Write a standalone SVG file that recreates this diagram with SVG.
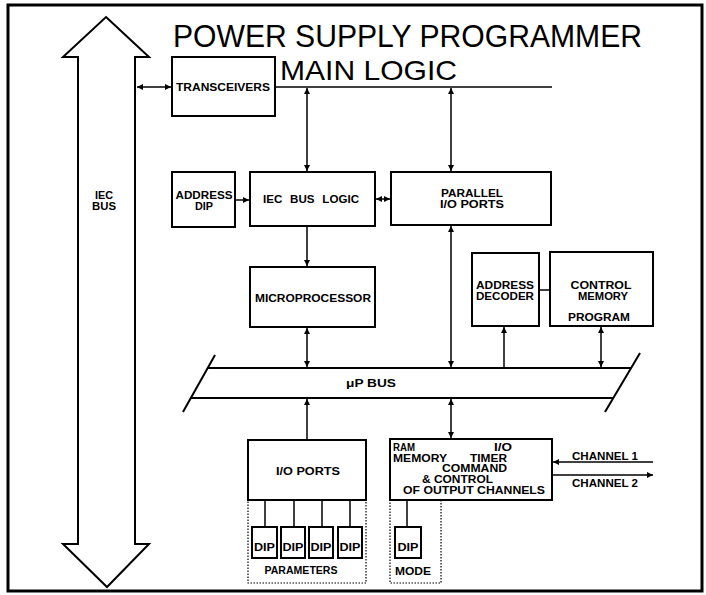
<svg xmlns="http://www.w3.org/2000/svg" width="706" height="595" viewBox="0 0 706 595">
<style>
.box{fill:#fff;stroke:#000;stroke-width:2}
.dot{fill:none;stroke:#000;stroke-width:1.2;stroke-dasharray:1.5 1.5}
.ln{fill:none;stroke:#000;stroke-width:1.5}
.t{font-family:"Liberation Sans",Arial,sans-serif;font-weight:bold;font-size:10px;fill:#000}
.c{text-anchor:middle}
.title{font-family:"Liberation Sans",Arial,sans-serif;font-weight:normal;fill:#000}
</style>
<defs>
<marker id="ah" viewBox="0 0 10 10" refX="10" refY="5" markerWidth="6" markerHeight="6" markerUnits="userSpaceOnUse" orient="auto-start-reverse">
<path d="M0,0 L10,5 L0,10 z" fill="#000"/>
</marker>
</defs>
<rect x="0" y="0" width="706" height="595" fill="#fff"/>
<rect x="8" y="5" width="694" height="586" fill="none" stroke="#000" stroke-width="3"/>

<g id="title">
<text class="title" x="173" y="47" font-size="31" textLength="469" lengthAdjust="spacingAndGlyphs">POWER SUPPLY PROGRAMMER</text>
<text class="title" x="280" y="80" font-size="28" textLength="177" lengthAdjust="spacingAndGlyphs">MAIN LOGIC</text>
</g>

<g id="iec-bus">
<polygon class="box" points="106,17 149,57 135,57 135,544 149,544 107,587 63,544 78,544 78,57 63,57"/>
<text class="t c" x="104" y="199" textLength="18" lengthAdjust="spacingAndGlyphs">IEC</text>
<text class="t c" x="104" y="210" textLength="24" lengthAdjust="spacingAndGlyphs">BUS</text>
</g>

<g id="transceivers">
<rect class="box" x="172" y="57" width="103" height="59"/>
<text class="t c" x="223" y="91" textLength="94" lengthAdjust="spacingAndGlyphs">TRANSCEIVERS</text>
</g>

<g id="address-dip">
<rect class="box" x="172" y="172" width="63" height="55"/>
<text class="t c" x="204" y="199" textLength="57" lengthAdjust="spacingAndGlyphs">ADDRESS</text>
<text class="t c" x="204" y="210" textLength="18" lengthAdjust="spacingAndGlyphs">DIP</text>
</g>

<g id="iec-bus-logic">
<rect class="box" x="250" y="172" width="125" height="54"/>
<text class="t c" x="311" y="203" textLength="96" lengthAdjust="spacingAndGlyphs" word-spacing="4">IEC BUS LOGIC</text>
</g>

<g id="parallel-io">
<rect class="box" x="391" y="172" width="160" height="53"/>
<text class="t c" x="472" y="197" textLength="62" lengthAdjust="spacingAndGlyphs">PARALLEL</text>
<text class="t c" x="472" y="208" textLength="64" lengthAdjust="spacingAndGlyphs">I/O PORTS</text>
</g>

<g id="microprocessor">
<rect class="box" x="250" y="267" width="125" height="60"/>
<text class="t c" x="313" y="302" textLength="116" lengthAdjust="spacingAndGlyphs">MICROPROCESSOR</text>
</g>

<g id="address-decoder">
<rect class="box" x="472" y="253" width="67" height="73"/>
<text class="t c" x="505" y="289" textLength="58" lengthAdjust="spacingAndGlyphs">ADDRESS</text>
<text class="t c" x="505" y="300" textLength="58" lengthAdjust="spacingAndGlyphs">DECODER</text>
</g>

<g id="control-memory">
<rect class="box" x="550" y="252" width="103" height="74"/>
<text class="t c" x="601" y="289" textLength="61" lengthAdjust="spacingAndGlyphs">CONTROL</text>
<text class="t c" x="603" y="300" textLength="50" lengthAdjust="spacingAndGlyphs">MEMORY</text>
<text class="t c" x="599" y="321" textLength="62" lengthAdjust="spacingAndGlyphs">PROGRAM</text>
</g>

<g id="up-bus">
<line class="box" x1="208" y1="368" x2="631" y2="368"/>
<line class="box" x1="191" y1="398" x2="613" y2="398"/>
<line class="box" x1="183" y1="412" x2="215" y2="355"/>
<line class="box" x1="640" y1="353" x2="605" y2="412"/>
<text class="t c" x="371" y="387" textLength="50" lengthAdjust="spacingAndGlyphs">μP BUS</text>
</g>

<g id="io-ports">
<rect class="box" x="248" y="440" width="118" height="60"/>
<text class="t c" x="308" y="475" textLength="64" lengthAdjust="spacingAndGlyphs">I/O PORTS</text>
</g>

<g id="parameters">
<rect class="dot" x="248" y="500" width="118" height="83"/>
<rect class="box" x="252" y="527" width="25" height="31"/>
<rect class="box" x="281" y="527" width="24" height="31"/>
<rect class="box" x="309" y="527" width="24" height="31"/>
<rect class="box" x="338" y="527" width="24" height="31"/>
<text class="t c" x="264.5" y="551" textLength="21" lengthAdjust="spacingAndGlyphs">DIP</text>
<text class="t c" x="293" y="551" textLength="21" lengthAdjust="spacingAndGlyphs">DIP</text>
<text class="t c" x="321" y="551" textLength="21" lengthAdjust="spacingAndGlyphs">DIP</text>
<text class="t c" x="350" y="551" textLength="21" lengthAdjust="spacingAndGlyphs">DIP</text>
<text class="t c" x="301" y="574" textLength="73" lengthAdjust="spacingAndGlyphs">PARAMETERS</text>
</g>

<g id="ram-timer">
<rect class="box" x="390" y="439" width="162" height="61"/>
<text class="t" x="393" y="451" textLength="22" lengthAdjust="spacingAndGlyphs">RAM</text>
<text class="t" x="494" y="451" textLength="18" lengthAdjust="spacingAndGlyphs">I/O</text>
<text class="t" x="393" y="462" textLength="54" lengthAdjust="spacingAndGlyphs">MEMORY</text>
<text class="t" x="470" y="462" textLength="37" lengthAdjust="spacingAndGlyphs">TIMER</text>
<text class="t" x="442" y="472" textLength="65" lengthAdjust="spacingAndGlyphs">COMMAND</text>
<text class="t" x="422" y="483" textLength="71" lengthAdjust="spacingAndGlyphs">&amp; CONTROL</text>
<text class="t" x="403" y="494" textLength="142" lengthAdjust="spacingAndGlyphs">OF OUTPUT CHANNELS</text>
<text class="t c" x="605" y="460" textLength="66" lengthAdjust="spacingAndGlyphs">CHANNEL 1</text>
<text class="t c" x="605" y="487" textLength="66" lengthAdjust="spacingAndGlyphs">CHANNEL 2</text>
</g>

<g id="mode">
<rect class="dot" x="390" y="500" width="51" height="83"/>
<rect class="box" x="395" y="527" width="26" height="31"/>
<text class="t c" x="408" y="551" textLength="21" lengthAdjust="spacingAndGlyphs">DIP</text>
<text class="t c" x="413" y="575" textLength="36" lengthAdjust="spacingAndGlyphs">MODE</text>
</g>

<g id="connectors">
<line class="ln" x1="137" y1="87" x2="171" y2="87" marker-start="url(#ah)" marker-end="url(#ah)"/>
<line class="ln" x1="275" y1="87" x2="552" y2="87"/>
<line class="ln" x1="307" y1="88" x2="307" y2="171" marker-start="url(#ah)" marker-end="url(#ah)"/>
<line class="ln" x1="451" y1="88" x2="451" y2="171" marker-start="url(#ah)" marker-end="url(#ah)"/>
<line class="ln" x1="236" y1="200" x2="249" y2="200" marker-end="url(#ah)"/>
<line class="ln" x1="376" y1="199" x2="390" y2="199" marker-start="url(#ah)" marker-end="url(#ah)"/>
<line class="ln" x1="307" y1="227" x2="307" y2="266" marker-end="url(#ah)"/>
<line class="ln" x1="307" y1="328" x2="307" y2="367" marker-start="url(#ah)" marker-end="url(#ah)"/>
<line class="ln" x1="451" y1="226" x2="451" y2="367" marker-start="url(#ah)" marker-end="url(#ah)"/>
<line class="ln" x1="504" y1="367" x2="504" y2="327" marker-end="url(#ah)"/>
<line class="ln" x1="601" y1="367" x2="601" y2="327" marker-start="url(#ah)" marker-end="url(#ah)"/>
<line class="ln" x1="539" y1="290" x2="550" y2="290"/>
<line class="ln" x1="307" y1="439" x2="307" y2="399" marker-end="url(#ah)"/>
<line class="ln" x1="451" y1="399" x2="451" y2="438" marker-start="url(#ah)" marker-end="url(#ah)"/>
<line class="ln" x1="653" y1="462" x2="553" y2="462" marker-end="url(#ah)"/>
<line class="ln" x1="553" y1="475" x2="653" y2="475" marker-end="url(#ah)"/>
<line class="ln" x1="265" y1="501" x2="265" y2="527"/>
<line class="ln" x1="294" y1="501" x2="294" y2="527"/>
<line class="ln" x1="322" y1="501" x2="322" y2="527"/>
<line class="ln" x1="350" y1="501" x2="350" y2="527"/>
<line class="ln" x1="407" y1="501" x2="407" y2="527"/>
</g>
</svg>
